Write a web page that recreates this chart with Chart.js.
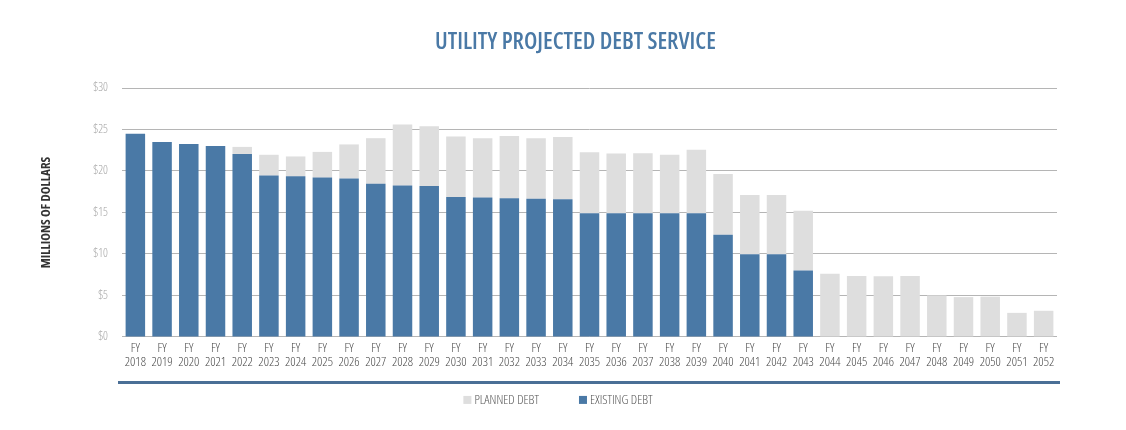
<!DOCTYPE html>
<html>
<head>
<meta charset="utf-8">
<script src="https://cdn.jsdelivr.net/npm/chart.js@4.4.0/dist/chart.umd.min.js"></script>
<style>
  html, body { margin: 0; padding: 0; background: #fff; }
  #wrap { width: 1126px; height: 430px; }
</style>
</head>
<body>
<div id="wrap"><canvas id="debtChart" width="1126" height="430"></canvas></div>
<script>
const chartTitle = 'UTILITY PROJECTED DEBT SERVICE';

const years = [2018, 2019, 2020, 2021, 2022, 2023, 2024, 2025, 2026, 2027, 2028, 2029, 2030, 2031, 2032, 2033, 2034,
  2035, 2036, 2037, 2038, 2039, 2040, 2041, 2042, 2043, 2044, 2045, 2046, 2047, 2048, 2049, 2050, 2051, 2052];

// existing debt (blue, bottom of stack), millions
const existingDebt = [24.5, 23.5, 23.25, 23.0, 22.05, 19.45, 19.35, 19.2, 19.1, 18.45, 18.25, 18.2, 16.85, 16.8, 16.7, 16.65, 16.6,
  14.9, 14.9, 14.9, 14.9, 14.9, 12.3, 9.95, 9.95, 8.0, 0, 0, 0, 0, 0, 0, 0, 0, 0];

// planned debt (grey, stacked on top), millions
const plannedDebt = [0, 0, 0, 0, 0.85, 2.5, 2.4, 3.1, 4.1, 5.5, 7.35, 7.2, 7.3, 7.15, 7.5, 7.3, 7.5,
  7.35, 7.2, 7.25, 7.05, 7.65, 7.35, 7.15, 7.15, 7.2, 7.6, 7.35, 7.3, 7.35, 5.0, 4.8, 4.85, 2.9, 3.15];

const yTicks = [0, 5, 10, 15, 20, 25, 30];

const labels = years.map((y) => ['FY', String(y)]);

// Open Sans is variable, so "condensed" in the font string narrows it
const FONT = '"Open Sans", sans-serif';
const BLUE = '#4a79a6';
const GREY = '#dedede';

// title (a bit right of the canvas centre), thick rule under the labels, legend below it
const decorations = {
  id: 'decorations',
  afterDraw(chart) {
    const { ctx, chartArea } = chart;
    ctx.save();

    ctx.font = '600 condensed 23.5px ' + FONT;
    ctx.fillStyle = BLUE;
    ctx.textAlign = 'center';
    ctx.textBaseline = 'alphabetic';
    ctx.fillText(chartTitle, (chartArea.left + chartArea.right) / 2 - 14, 48.5);

    ctx.strokeStyle = '#4a6f96';
    ctx.lineWidth = 3;
    ctx.beginPath();
    ctx.moveTo(chartArea.left - 4, chartArea.bottom + 45.5);
    ctx.lineTo(chartArea.right + 3, chartArea.bottom + 45.5);
    ctx.stroke();

    // legend: planned first, existing second
    const items = chart.data.datasets.slice().reverse();
    ctx.font = '300 condensed 13px ' + FONT;
    ctx.textAlign = 'left';
    ctx.textBaseline = 'middle';
    const box = 8, gap = 3, spacing = 40;
    const widths = items.map((d) => box + gap + ctx.measureText(d.label).width);
    const total = widths.reduce((a, b) => a + b, 0) + spacing * (items.length - 1);
    let x = chart.width / 2 - 5 - total / 2;
    const y = chartArea.bottom + 63;
    items.forEach((d, i) => {
      ctx.fillStyle = d.backgroundColor;
      ctx.fillRect(x, y - box / 2, box, box);
      ctx.fillStyle = '#555';
      ctx.fillText(d.label, x + box + gap, y);
      x += widths[i] + spacing;
    });
    ctx.restore();
  }
};

new Chart(document.getElementById('debtChart'), {
  type: 'bar',
  data: {
    labels,
    datasets: [
      {
        label: 'EXISTING DEBT',
        data: existingDebt,
        backgroundColor: BLUE,
        barPercentage: 0.73,
        categoryPercentage: 1,
      },
      {
        label: 'PLANNED DEBT',
        data: plannedDebt,
        backgroundColor: GREY,
        barPercentage: 0.73,
        categoryPercentage: 1,
      },
    ],
  },
  options: {
    responsive: false,
    animation: false,
    layout: { padding: { left: 36, right: 69, top: 88, bottom: 57 } },
    plugins: {
      title: { display: false },
      legend: { display: false },
      tooltip: { enabled: false },
    },
    scales: {
      x: {
        stacked: true,
        grid: { display: false, drawTicks: false },
        border: { display: false },
        ticks: {
          color: '#4a4a4a',
          padding: 4,
          autoSkip: false,
          maxRotation: 0,
          font: { family: FONT, size: 13, weight: '300 condensed', lineHeight: 1.08 },
        },
      },
      y: {
        stacked: true,
        min: 0,
        max: 30,
        afterBuildTicks(scale) { scale.ticks = yTicks.map((v) => ({ value: v })); },
        afterFit(scale) { scale.width = 86; },
        grid: { color: '#b5b5b5', lineWidth: 1, drawTicks: false },
        border: { display: false },
        ticks: {
          color: '#a6a6a6',
          padding: 14,
          font: { family: FONT, size: 12, weight: '300 condensed' },
          callback: (v) => '$' + v,
        },
        title: {
          display: true,
          text: 'MILLIONS OF DOLLARS',
          color: '#333',
          padding: { top: 2, bottom: 0 },
          font: { family: FONT, size: 13, weight: 'bold condensed' },
        },
      },
    },
  },
  plugins: [decorations],
});
</script>
</body>
</html>
